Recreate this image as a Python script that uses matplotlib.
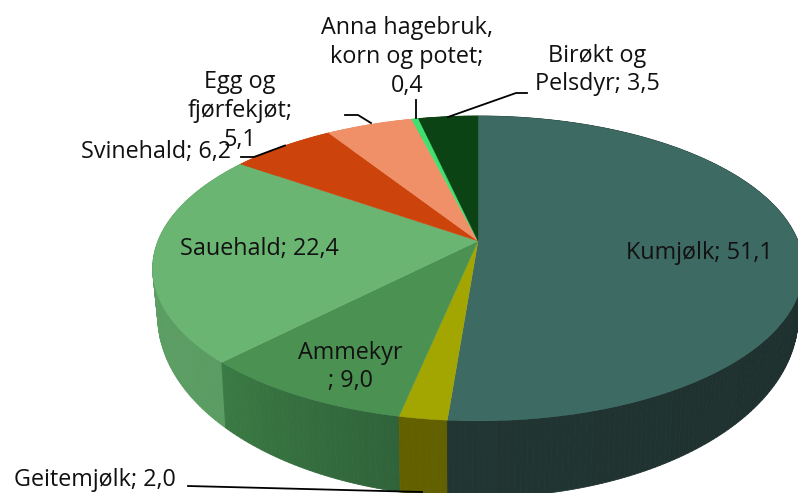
import numpy as np
import matplotlib
matplotlib.use("Agg")
import matplotlib.pyplot as plt

# share of income per branch, clockwise from the top
categories = ["Kumjølk", "Geitemjølk", "Ammekyr", "Sauehald", "Svinehald",
              "Egg og fjørfekjøt", "Anna hagebruk, korn og potet", "Birøkt og Pelsdyr"]
values = [51.1, 2.0, 9.0, 22.4, 6.2, 5.1, 0.4, 3.5]
top_colors = ["#3d6b63", "#a3a600", "#4a9152", "#6bb573", "#cc440c", "#f09068", "#3fe070", "#0b4315"]
# side shading, start and end of each slice
side_start = ["#182826", "#636000", "#30633a", "#5a9c62", "#cc440c", "#f09068", "#3fe070", "#0b4315"]
side_end = ["#213532", "#636000", "#3a7a44", "#5fa367", "#cc440c", "#f09068", "#3fe070", "#0b4315"]

# labels, wrapped as in the chart
label_text = ["Kumjølk; 51,1", "Geitemjølk; 2,0", "Ammekyr\n; 9,0", "Sauehald; 22,4", "Svinehald; 6,2",
              "Egg og\nfjørfekjøt;\n5,1", "Anna hagebruk,\nkorn og potet;\n0,4", "Birøkt og\nPelsdyr; 3,5"]
label_x = [699, 95, 350, 259, 156, 240, 407, 597]
label_y = [253, 480, 367, 249, 152, 111, 57, 70]

# leader lines
leaders = [
    ([188, 422], [486, 492]),
    ([241, 254, 285], [157, 157, 145.5]),
    ([345, 358, 371], [115, 115, 123]),
    ([416, 416], [100, 118]),
    ([527, 516, 448], [93, 93, 117]),
]

plt.rcParams["font.family"] = ["Open Sans", "DejaVu Sans"]

fig = plt.figure(figsize=(7.98, 4.93), dpi=100)
ax = fig.add_axes([0, 0, 1, 1])
ax.set_xlim(0, 798)
ax.set_ylim(493, 0)
ax.axis("off")

cx = 478
k = 0.18


def top_rim(t):
    # perspective view of the upper disc
    u, v = np.sin(t), np.cos(t)
    return cx + 320 * u / (1 + k * v), 241 - 147.5 * v / (1 + k * v)


def bottom_rim(t):
    u, v = np.sin(t), np.cos(t)
    return cx + 315 * u / (1 + k * v), 284 - 175 * v / (1 + k * v)


def mix(a, b, f):
    a = np.array(matplotlib.colors.to_rgb(a))
    b = np.array(matplotlib.colors.to_rgb(b))
    return a + (b - a) * f


total = sum(values)
edges = np.cumsum([0] + values) / total * 2 * np.pi

# outer wall, far pieces first
quads = []
for i in range(len(values)):
    steps = np.linspace(edges[i], edges[i + 1], max(3, int(values[i] * 4)))
    for j in range(len(steps) - 1):
        f = j / max(1, len(steps) - 2)
        quads.append((steps[j], steps[j + 1], mix(side_start[i], side_end[i], f)))
quads.sort(key=lambda q: -np.cos(q[0]))
for a, b, c in quads:
    t = np.array([a, b])
    x1, y1 = top_rim(t)
    x2, y2 = bottom_rim(t[::-1])
    ax.fill(np.r_[x1, x2], np.r_[y1, y2], color=c, lw=0.6)

# top surface
for i in range(len(values)):
    t = np.linspace(edges[i], edges[i + 1], 80)
    x, y = top_rim(t)
    ax.fill(np.r_[cx, x], np.r_[241, y], color=top_colors[i], lw=0.3)

for xs, ys in leaders:
    ax.plot(xs, ys, color="black", lw=1.3, solid_joinstyle="miter")

for name, x, y in zip(label_text, label_x, label_y):
    ax.text(x, y, name, ha="center", va="center", fontsize=16.8, color="#111111", linespacing=1.26)

fig.savefig("out.png", dpi=100)
